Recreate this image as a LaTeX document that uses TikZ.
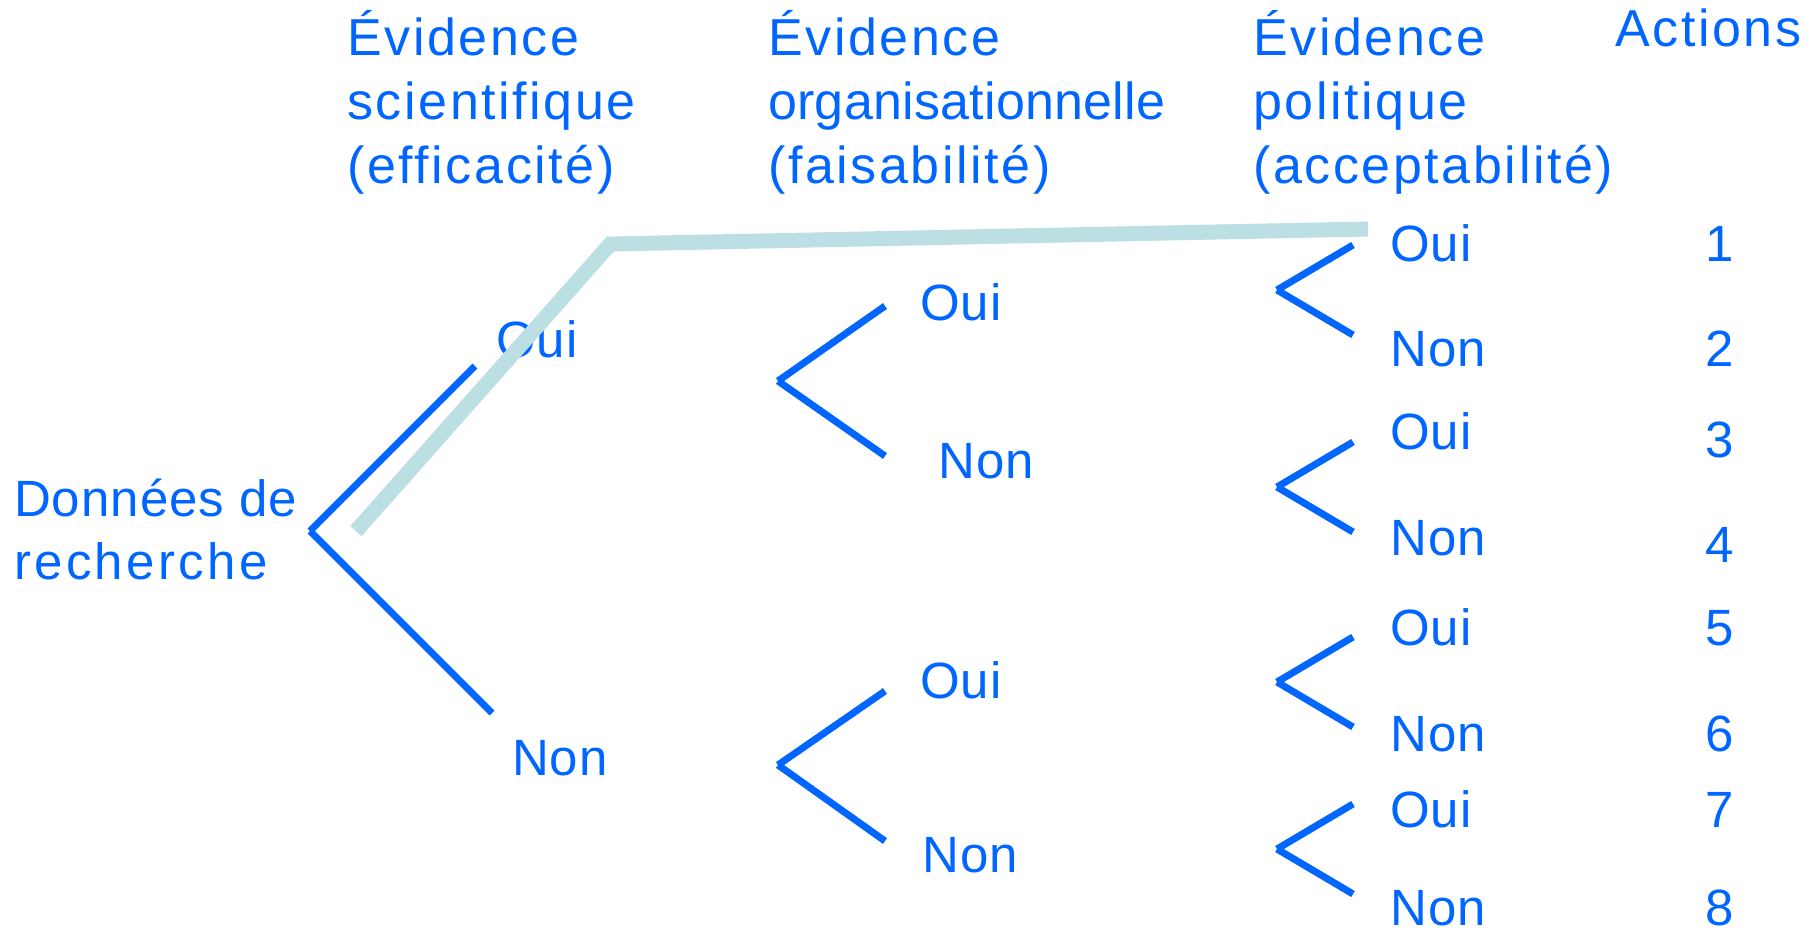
\documentclass[tikz,border=0pt]{standalone}
\usepackage{fontspec}
\setmainfont{Liberation Sans}[Ligatures=NoCommon]
\newfontfamily\hdfont{Liberation Sans}[Ligatures=NoCommon,LetterSpace=5]
\newfontfamily\bdfont{Liberation Sans}[Ligatures=NoCommon,LetterSpace=2]
\definecolor{tblue}{HTML}{0066FF}
\definecolor{tteal}{HTML}{BBDFE2}
\begin{document}
\begin{tikzpicture}[x=1pt,y=-1pt,
  txt/.style={inner sep=0pt, anchor=base west, text=tblue, align=left,
    font=\bdfont\fontsize{51}{63}\selectfont},
  hdr/.style={inner sep=0pt, anchor=base west, text=tblue, align=left,
    font=\hdfont\fontsize{52}{64}\selectfont},
  num/.style={inner sep=0pt, anchor=base, text=tblue,
    font=\bdfont\fontsize{51}{63}\selectfont},
  branch/.style={draw=tblue, line width=7pt},
  choice/.style={draw=tteal, line width=15pt}]
\useasboundingbox (0,0) rectangle (1818,935);

% headers (anchored at the baseline of their last line)
\node[hdr] (h1) at (347,183) {Évidence\\scientifique\\(efficacité)};
\node[hdr] (h2) at (768,183) {Évidence\\{\addfontfeature{LetterSpace=0.5}organisationnelle}\\(faisabilité)};
\node[hdr] (h3) at (1253,183) {Évidence\\politique\\(acceptabilité)};
\node[hdr] (h4) at (1615,46) {Actions};

% root
\node[txt] (root) at (14,579) {Données de\\{\addfontfeature{LetterSpace=6.5}recherche}};
\coordinate (r0) at (310,531);
\coordinate (r1) at (475,366);
\coordinate (r2) at (492,713);
\draw[branch] (r0) -- (r1);
\draw[branch] (r0) -- (r2);
\node[txt] (s1) at (496,357) {Oui};
\node[txt] (s2) at (512,775) {Non};

% level 2
\coordinate (a0) at (778,381);
\coordinate (a1) at (885,306);
\coordinate (a2) at (885,456);
\coordinate (b0) at (778,765);
\coordinate (b1) at (885,691);
\coordinate (b2) at (885,841);
\draw[branch] (a0) -- (a1);
\draw[branch] (a0) -- (a2);
\draw[branch] (b0) -- (b1);
\draw[branch] (b0) -- (b2);
\node[txt] (o1) at (920,320) {Oui};
\node[txt] (o2) at (938,478) {Non};
\node[txt] (o3) at (920,698) {Oui};
\node[txt] (o4) at (922,872) {Non};

% level 3
\foreach \i/\y in {1/290,2/487,3/682,4/849}{
  \coordinate (v\i) at (1277,\y);
  \coordinate (u\i) at (1353,\y-45);
  \coordinate (d\i) at (1353,\y+45);
  \draw[branch] (v\i) -- (u\i);
  \draw[branch] (v\i) -- (d\i);
}
\node[txt] (p1) at (1390,261) {Oui};
\node[txt] (p2) at (1390,366) {Non};
\node[txt] (p3) at (1390,449) {Oui};
\node[txt] (p4) at (1390,555) {Non};
\node[txt] (p5) at (1390,645) {Oui};
\node[txt] (p6) at (1390,751) {Non};
\node[txt] (p7) at (1390,827) {Oui};
\node[txt] (p8) at (1390,925) {Non};

% actions
\node[num] (n1) at (1720,261) {1};
\node[num] (n2) at (1720,366) {2};
\node[num] (n3) at (1720,457) {3};
\node[num] (n4) at (1720,562) {4};
\node[num] (n5) at (1720,645) {5};
\node[num] (n6) at (1720,751) {6};
\node[num] (n7) at (1720,827) {7};
\node[num] (n8) at (1720,925) {8};

% highlighted choice path
\coordinate (t0) at (356,531);
\coordinate (t1) at (613,241);
\coordinate (t2) at (609,244);
\coordinate (t3) at (1368,229);
\draw[choice] (t0) -- (t1);
\draw[choice] (t2) -- (t3);
\end{tikzpicture}
\end{document}
